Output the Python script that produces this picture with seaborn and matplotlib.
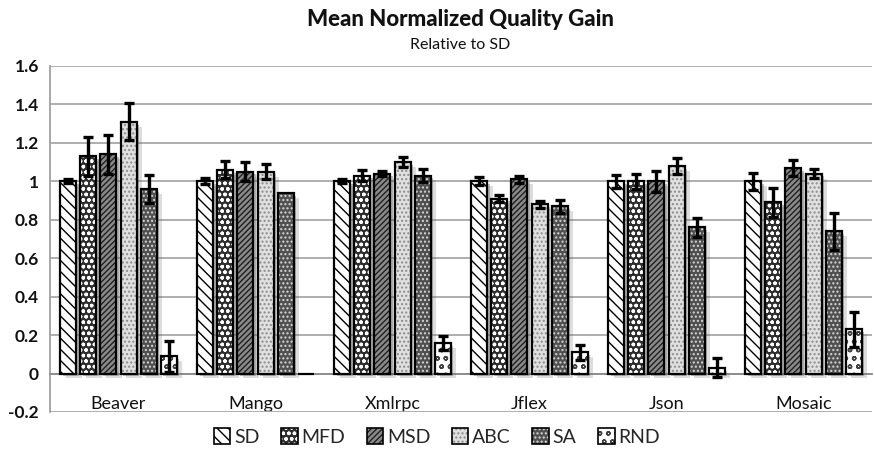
import numpy as np
import pandas as pd
import matplotlib
matplotlib.use("Agg")
import matplotlib.pyplot as plt
import matplotlib.patheffects as pe
from matplotlib.patches import Patch
from matplotlib.colors import to_rgba
from matplotlib.ticker import FuncFormatter
import seaborn as sns

# ---- data -------------------------------------------------------------
projects = ["Beaver", "Mango", "Xmlrpc", "Jflex", "Json", "Mosaic"]
methods = ["SD", "MFD", "MSD", "ABC", "SA", "RND"]

sd = [1.00, 1.00, 1.00, 1.00, 1.00, 1.00]
mfd = [1.13, 1.06, 1.03, 0.91, 1.00, 0.89]
msd = [1.14, 1.05, 1.04, 1.01, 1.00, 1.07]
abc = [1.31, 1.05, 1.10, 0.88, 1.08, 1.04]
sa = [0.96, 0.94, 1.03, 0.87, 0.76, 0.74]
rnd = [0.09, 0.00, 0.16, 0.11, 0.03, 0.23]

sd_err = [0.010, 0.015, 0.010, 0.020, 0.035, 0.045]
mfd_err = [0.100, 0.045, 0.030, 0.020, 0.040, 0.075]
msd_err = [0.100, 0.050, 0.012, 0.020, 0.055, 0.040]
abc_err = [0.095, 0.040, 0.025, 0.020, 0.040, 0.025]
sa_err = [0.075, 0.000, 0.035, 0.035, 0.050, 0.095]
rnd_err = [0.080, 0.000, 0.035, 0.040, 0.050, 0.090]

values = [sd, mfd, msd, abc, sa, rnd]
errors = [sd_err, mfd_err, msd_err, abc_err, sa_err, rnd_err]

# fill colour, hatch pattern, hatch colour for each method
styles = {
    "SD": ("white", "\\\\\\", "black"),
    "MFD": ("#2e2e2e", "ooo", "white"),
    "MSD": ("#8a8a8a", "//////", "#202020"),
    "ABC": ("#e0e0e0", "....", "#8c8c8c"),
    "SA": ("#505050", "....", "#d8d8d8"),
    "RND": ("white", "oo", "#404040"),
}

df = pd.DataFrame(
    [(p, m, v) for m, vals in zip(methods, values) for p, v in zip(projects, vals)],
    columns=["project", "method", "value"],
)


class Shadow(pe.AbstractPathEffect):
    """Soft grey offset shadow without the hatch."""

    def __init__(self, offset=(3, -3), color="0.45", alpha=0.35):
        super().__init__(offset)
        self.color = color
        self.alpha = alpha

    def draw_path(self, renderer, gc, tpath, affine, rgbFace=None):
        gc0 = renderer.new_gc()
        gc0.copy_properties(gc)
        gc0.set_hatch(None)
        gc0.set_foreground("none")
        gc0.set_alpha(self.alpha)
        gc0.set_linewidth(0)
        renderer.draw_path(gc0, tpath, affine + self._offset_transform(renderer),
                           to_rgba(self.color))
        gc0.restore()


def style_patch(p, face, hatch, hcolor):
    p.set_facecolor(face)
    p.set_edgecolor("black")
    p.set_hatch(hatch)
    if hasattr(p, "set_hatchcolor"):
        p.set_hatchcolor(hcolor)
    else:
        p._hatch_color = to_rgba(hcolor)


# ---- figure -----------------------------------------------------------
sns.set_style("white")
plt.rcParams["font.family"] = ["Lato", "DejaVu Sans"]
plt.rcParams["hatch.linewidth"] = 1.0

fig = plt.figure(figsize=(8.74, 4.5), dpi=100)
ax = fig.add_axes([50 / 874, 1 - 412 / 450, 822 / 874, 346 / 450])

sns.barplot(
    data=df, x="project", y="value", hue="method",
    order=projects, hue_order=methods,
    palette={m: styles[m][0] for m in methods},
    width=0.876, gap=0.2, errorbar=None,
    edgecolor="black", linewidth=1.6, legend=False, ax=ax, zorder=3,
)

shadow = [Shadow((2, -2), "0.3", 0.35), Shadow((4, -3.5), "0.4", 0.22), pe.Normal()]
for m, cont, vals, errs in zip(methods, ax.containers, values, errors):
    face, hatch, hcolor = styles[m]
    for bar, v, e in zip(cont, vals, errs):
        style_patch(bar, face, hatch, hcolor)
        bar.set_path_effects(shadow)
        if e > 0:
            ax.errorbar(bar.get_x() + bar.get_width() / 2, v, yerr=e,
                        fmt="none", ecolor="black", elinewidth=2.4,
                        capsize=3.8, capthick=2.4, zorder=6)

# axes styling
ax.set_xlim(-0.5, 5.5)
ax.set_ylim(-0.2, 1.6)
ax.set_yticks(np.arange(-0.2, 1.61, 0.2))
ax.yaxis.set_major_formatter(FuncFormatter(lambda y, _: f"{round(y, 1):g}"))
ax.yaxis.grid(True, color="#a8a8a8", linewidth=1.3)
ax.set_axisbelow(True)
ax.set_xlabel("")
ax.set_ylabel("")

for s in ("top", "right"):
    ax.spines[s].set_visible(False)
ax.spines["left"].set_color("#a0a0a0")
ax.spines["left"].set_linewidth(1.3)
ax.spines["bottom"].set_position(("data", 0))
ax.spines["bottom"].set_color("#8c8c8c")
ax.spines["bottom"].set_linewidth(1.3)

ax.tick_params(axis="y", which="major", direction="out", length=5, width=1.2,
               color="#a0a0a0", pad=3, labelsize=12.5, labelcolor="#111111")
for lab in ax.get_yticklabels():
    lab.set_fontweight("bold")

ax.set_xticks(range(len(projects)))
ax.set_xticklabels(projects)
ax.set_xticks(np.arange(-0.5, 6, 1), minor=True)
ax.tick_params(axis="x", which="major", length=0, pad=16, labelsize=13,
               labelcolor="#111111")
ax.tick_params(axis="x", which="minor", direction="out", length=3.5, width=1.2,
               color="#8c8c8c")

# titles
fig.text(0.527, 1 - 20 / 450, "Mean Normalized Quality Gain", ha="center",
         va="center", fontsize=16, fontweight="black", color="#111111")
fig.text(0.527, 1 - 45 / 450, "Relative to SD", ha="center", va="center",
         fontsize=11.5, color="#111111")

# legend
handles = []
for m in methods:
    face, hatch, hcolor = styles[m]
    h = Patch(facecolor=face, edgecolor="black", hatch=hatch, linewidth=1.2, label=m)
    if hasattr(h, "set_hatchcolor"):
        h.set_hatchcolor(hcolor)
    else:
        h._hatch_color = to_rgba(hcolor)
    handles.append(h)
fig.legend(handles=handles, loc="center", bbox_to_anchor=(0.5, 1 - 437 / 450),
           ncol=6, frameon=False, handlelength=0.85, handleheight=0.85,
           handletextpad=0.2, columnspacing=1.1, fontsize=14)

fig.savefig("out.png", dpi=100, facecolor="white")
